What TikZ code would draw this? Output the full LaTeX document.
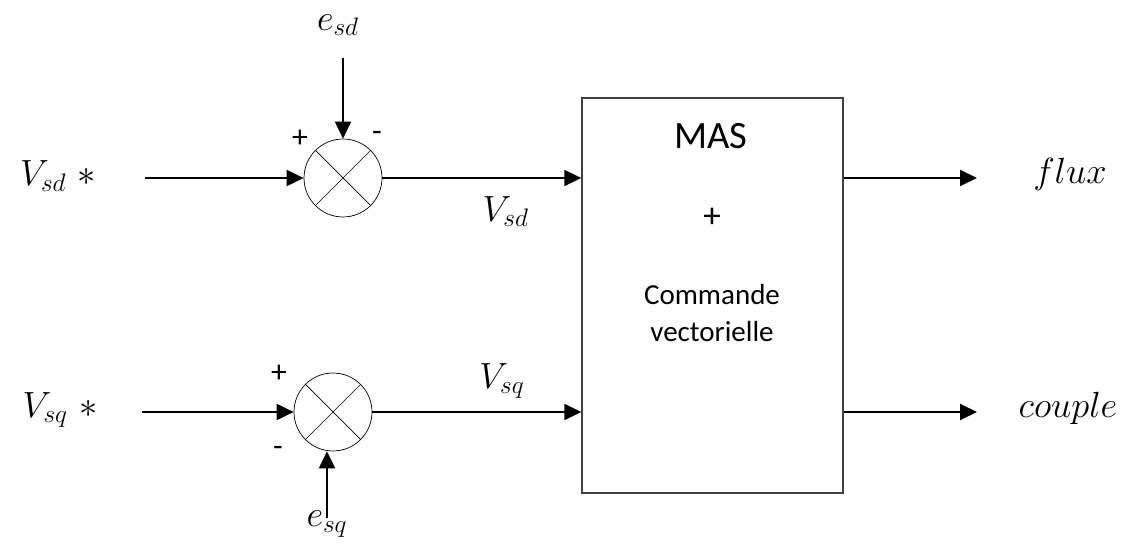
\documentclass[tikz,border=0pt]{standalone}
\usepackage{amsmath,amssymb}
\usepackage{fontspec}
\usepackage{xcolor}
\usepackage{tikz}
\usetikzlibrary{positioning,arrows.meta,calc}
\newfontfamily\boxfont{Carlito}
\tikzset{
  sumnode/.style={draw, thin, circle, minimum size=1.56cm, inner sep=0pt,
                  path picture={
                    \draw[thin] (path picture bounding box.north west) -- (path picture bounding box.south east);
                    \draw[thin] (path picture bounding box.north east) -- (path picture bounding box.south west);}},
  blockbox/.style={draw, thick, draw=black!75, minimum width=5.22cm, minimum height=7.9cm},
  sig/.style={font=\fontsize{21}{24}\selectfont, inner sep=1pt},
  signlabel/.style={font=\boxfont\fontsize{18}{20}\selectfont, inner sep=0pt},
  arrow/.style={-{Triangle[length=3.4mm, width=3.2mm]}, line width=1.1pt},
}
\begin{document}
\begin{tikzpicture}[x=0.02cm, y=-0.02cm]
  \useasboundingbox (0,0) rectangle (1139,546);
  % comparateurs
  \node[sumnode] (S1) at (343,178) {};
  \node[sumnode] (S2) at (333,412) {};
  % bloc MAS
  \node[blockbox] (MAS) at (712.5,295.5) {};
  \node[font=\boxfont\fontsize{22}{26}\selectfont] (title) at (711,136) {MAS};
  \node[font=\boxfont\fontsize{20}{22}\selectfont] (plus) at (712,218) {+};
  \node[font=\boxfont\fontsize{16.5}{21}\selectfont, align=center] (cmd) at (712,313) {Commande\\vectorielle};
  % entrees et sorties
  \node[sig] (Vsdref) at (58,176) {$V_{sd}\ *$};
  \node[sig] (Vsqref) at (60,410) {$V_{sq}\ *$};
  \node[sig, inner sep=0pt] (esd) at (338,25) {$e_{sd}$};
  \node[sig] (esq) at (327,524) {$e_{sq}$};
  \node[sig] (flux) at (1070,174) {$flux$};
  \node[sig] (couple) at (1068,408) {$couple$};
  \coordinate (in1) at (145,178);
  \coordinate (in2) at (142,412);
  \coordinate (top1) at (343,58);
  \coordinate (bot2) at (327,518);
  \coordinate (out1) at (977,178);
  \coordinate (out2) at (977,412);
  % fleches
  \draw[arrow] (in1) -- (S1.west);
  \draw[arrow] (top1) -- (S1.north);
  \draw[arrow] (S1.east) -- (S1.east -| MAS.west) node[sig, pos=0.62, below=9pt] (Vsd) {$V_{sd}$};
  \draw[arrow] (in2) -- (S2.west);
  \draw[arrow] (bot2) -- (bot2 |- S2.south);
  \draw[arrow] (S2.east) -- (S2.east -| MAS.west) node[sig, pos=0.62, above=6pt] (Vsq) {$V_{sq}$};
  \draw[arrow] (MAS.east |- out1) -- (out1);
  \draw[arrow] (MAS.east |- out2) -- (out2);
  % signes
  \node[signlabel] at (300,139) {+};
  \node[signlabel] at (377,136) {-};
  \node[signlabel] at (279,374) {+};
  \node[signlabel] at (278,451) {-};
\end{tikzpicture}
\end{document}
